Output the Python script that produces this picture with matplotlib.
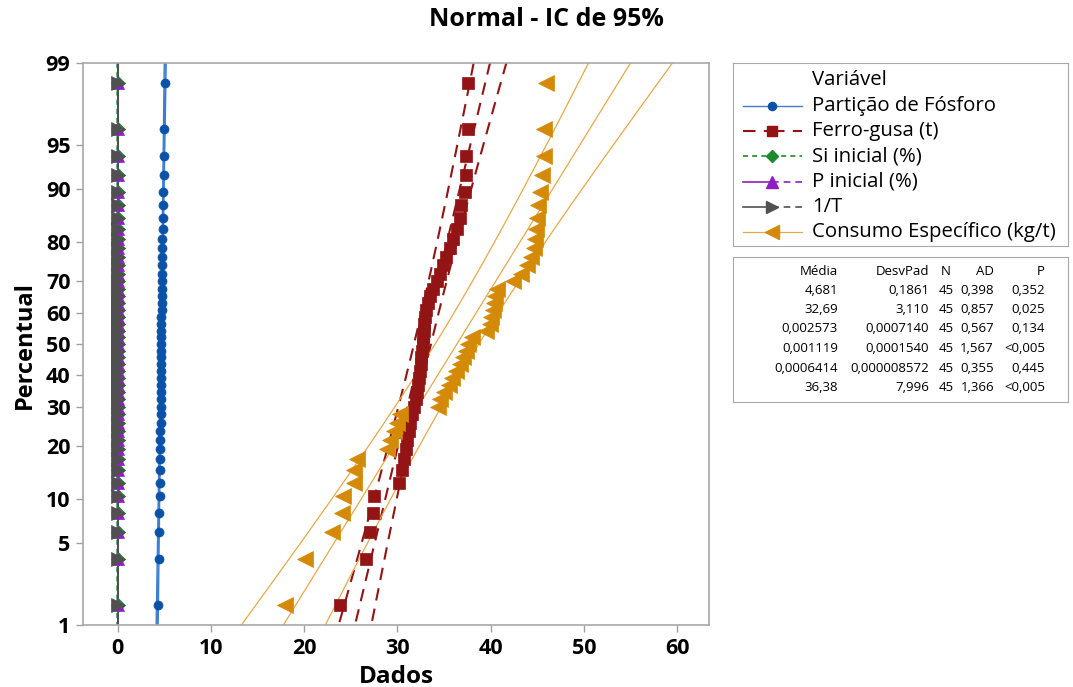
import numpy as np
import matplotlib
matplotlib.use("Agg")
import matplotlib.pyplot as plt
from statistics import NormalDist

plt.rcParams['font.family'] = ['Open Sans', 'DejaVu Sans']

# ---------------- data (sorted samples, n = 45 each) ----------------
particao = [4.38, 4.45, 4.48, 4.48, 4.55, 4.56, 4.57, 4.58, 4.59, 4.60,
            4.60, 4.61, 4.62, 4.63, 4.64, 4.64, 4.65, 4.66, 4.66, 4.67,
            4.67, 4.68, 4.68, 4.69, 4.70, 4.70, 4.71, 4.72, 4.72, 4.73,
            4.74, 4.75, 4.76, 4.77, 4.78, 4.80, 4.81, 4.85, 4.86, 4.88,
            4.90, 4.98, 5.00, 5.02, 5.08]

ferro = [23.9, 26.6, 27.1, 27.4, 27.5, 30.2, 30.5, 30.7, 30.9, 31.0,
         31.2, 31.4, 31.6, 31.8, 32.0, 32.1, 32.2, 32.3, 32.4, 32.5,
         32.5, 32.6, 32.7, 32.7, 32.8, 32.9, 33.0, 33.1, 33.3, 33.5,
         33.8, 34.2, 34.6, 34.9, 35.2, 35.6, 36.0, 36.4, 36.7, 36.8,
         37.2, 37.4, 37.4, 37.6, 37.6]

si_inicial = [0.0011, 0.0013, 0.0015, 0.0016, 0.0017, 0.0018, 0.0019, 0.0019, 0.0020, 0.0020,
              0.0021, 0.0021, 0.0022, 0.0022, 0.0023, 0.0023, 0.0024, 0.0024, 0.0024, 0.0025,
              0.0025, 0.0026, 0.0026, 0.0026, 0.0027, 0.0027, 0.0028, 0.0028, 0.0028, 0.0029,
              0.0029, 0.0030, 0.0030, 0.0031, 0.0031, 0.0032, 0.0033, 0.0033, 0.0034, 0.0035,
              0.0036, 0.0037, 0.0038, 0.0040, 0.0043]

p_inicial = [0.0008, 0.0009, 0.0009, 0.0009, 0.0009, 0.0010, 0.0010, 0.0010, 0.0010, 0.0010,
             0.0010, 0.0010, 0.0010, 0.0010, 0.0010, 0.0010, 0.0010, 0.0011, 0.0011, 0.0011,
             0.0011, 0.0011, 0.0011, 0.0011, 0.0011, 0.0011, 0.0011, 0.0012, 0.0012, 0.0012,
             0.0012, 0.0012, 0.0012, 0.0012, 0.0012, 0.0012, 0.0012, 0.0013, 0.0013, 0.0013,
             0.0013, 0.0013, 0.0014, 0.0014, 0.0015]

inv_t = [0.000622, 0.000626, 0.000628, 0.000630, 0.000631, 0.000632, 0.000633, 0.000634, 0.000634, 0.000635,
         0.000636, 0.000636, 0.000637, 0.000637, 0.000638, 0.000638, 0.000639, 0.000639, 0.000640, 0.000640,
         0.000641, 0.000641, 0.000641, 0.000642, 0.000642, 0.000643, 0.000643, 0.000644, 0.000644, 0.000645,
         0.000645, 0.000646, 0.000646, 0.000647, 0.000648, 0.000648, 0.000649, 0.000650, 0.000651, 0.000652,
         0.000653, 0.000654, 0.000656, 0.000658, 0.000661]

consumo = [18.0, 20.1, 23.0, 24.1, 24.2, 25.3, 25.3, 25.7, 28.9, 29.2,
           29.6, 30.0, 30.3, 34.3, 34.6, 35.0, 35.5, 35.9, 36.3, 36.7,
           37.0, 37.3, 37.6, 38.0, 39.5, 39.9, 40.0, 40.2, 40.4, 40.5,
           40.7, 42.4, 43.2, 43.9, 44.3, 44.6, 44.8, 44.9, 45.0, 45.1,
           45.3, 45.5, 45.7, 45.7, 45.9]

nomes = ["Partição de Fósforo", "Ferro-gusa (t)", "Si inicial (%)",
         "P inicial (%)", "1/T", "Consumo Específico (kg/t)"]

# summary table as printed
media_txt = ["4,681", "32,69", "0,002573", "0,001119", "0,0006414", "36,38"]
desvpad_txt = ["0,1861", "3,110", "0,0007140", "0,0001540", "0,000008572", "7,996"]
n_txt = ["45", "45", "45", "45", "45", "45"]
ad_txt = ["0,398", "0,857", "0,567", "1,567", "0,355", "1,366"]
p_txt = ["0,352", "0,025", "0,134", "<0,005", "0,445", "<0,005"]

y_ticks = [1, 5, 10, 20, 30, 40, 50, 60, 70, 80, 90, 95, 99]
x_ticks = [0, 10, 20, 30, 40, 50, 60]

series = [particao, ferro, si_inicial, p_inicial, inv_t, consumo]

# ---------------- styles ----------------
marker_col = ["#0a52a8", "#921414", "#1b8a2a", "#8f1fc2", "#505050", "#d48a06"]
line_col = ["#3c7fd0", "#921414", "#1b8a2a", "#8f1fc2", "#505050", "#e8a848"]
markers = ["o", "s", "D", "^", ">", "<"]
msizes = [6.5, 8.5, 7, 9, 10, 11]
fit_ls = ["-", (0, (6, 4)), (0, (3, 2.5)), "-", "-", "-"]
ci_ls = ["-", (0, (6, 4)), (0, (3, 2.5)), (0, (4, 3)), (0, (4, 3)), "-"]
lws = [1.0, 1.5, 1.2, 1.2, 1.2, 0.9]

# ---------------- normal probability scale ----------------
_nd = NormalDist()


def _ppf_scalar(p):
    if not np.isfinite(p):
        return np.nan
    p = min(max(p, 1e-9), 1 - 1e-9)
    return _nd.inv_cdf(p)


_ppf = np.vectorize(_ppf_scalar, otypes=[float])
_cdf = np.vectorize(lambda z: _nd.cdf(z) if np.isfinite(z) else np.nan, otypes=[float])


def prob_fwd(pct):
    return _ppf(np.asarray(pct, dtype=float) / 100.0)


def prob_inv(z):
    return _cdf(np.asarray(z, dtype=float)) * 100.0


fig = plt.figure(figsize=(10.73, 6.87), dpi=100)
ax = fig.add_axes([83 / 1073, 62 / 687, 626 / 1073, 562 / 687])
ax.set_yscale("function", functions=(prob_fwd, prob_inv))

n = 45
ranks = np.arange(1, n + 1)
plot_pos = (ranks - 0.3) / (n + 0.4) * 100.0

z_grid = np.linspace(-2.8, 2.8, 300)
p_grid = prob_inv(z_grid)
z975 = _nd.inv_cdf(0.975)

for k, vals in enumerate(series):
    mu = float(media_txt[k].replace(",", "."))
    sd = float(desvpad_txt[k].replace(",", "."))
    fit = mu + sd * z_grid
    half = z975 * sd * np.sqrt(1.0 / n + z_grid ** 2 / (2.0 * n))
    ax.plot(fit, p_grid, color=line_col[k], ls=fit_ls[k], lw=lws[k], zorder=2)
    ax.plot(fit - half, p_grid, color=line_col[k], ls=ci_ls[k], lw=lws[k], zorder=2)
    ax.plot(fit + half, p_grid, color=line_col[k], ls=ci_ls[k], lw=lws[k], zorder=2)
    ax.plot(np.sort(vals), plot_pos, ls="none", marker=markers[k], ms=msizes[k],
            mfc=marker_col[k], mec=marker_col[k], mew=0.5, zorder=3)

ax.set_xlim(-3.7, 63.4)
ax.set_ylim(1, 99)
ax.set_yticks(y_ticks)
ax.set_yticklabels([str(t) for t in y_ticks])
ax.set_xticks(x_ticks)
ax.set_xticklabels([str(t) for t in x_ticks])
ax.yaxis.set_minor_locator(matplotlib.ticker.NullLocator())
ax.tick_params(axis="both", direction="out", length=5, width=1, color="#a0a0a0",
               labelsize=15.5, pad=4)
for lab in ax.get_xticklabels() + ax.get_yticklabels():
    lab.set_fontweight("bold")
for sp in ax.spines.values():
    sp.set_color("#a8a8a8")
    sp.set_linewidth(1.2)

fig.text(546 / 1073, 1 - 20 / 687, "Normal - IC de 95%", ha="center", va="center",
         fontsize=18, fontweight="bold")
fig.text(396 / 1073, 1 - 677 / 687, "Dados", ha="center", va="center",
         fontsize=17.5, fontweight="bold")
fig.text(25 / 1073, 1 - 345 / 687, "Percentual", ha="center", va="center",
         rotation=90, fontsize=17, fontweight="bold")

# ---------------- legend box ----------------
lg = fig.add_axes([733 / 1073, 1 - 246 / 687, 335 / 1073, 183 / 687])
lg.set_xlim(0, 335)
lg.set_ylim(183, 0)
lg.set_xticks([])
lg.set_yticks([])
for sp in lg.spines.values():
    sp.set_color("#a8a8a8")
lg.text(79, 17, "Variável", ha="left", va="center", fontsize=14.7)
for k, nome in enumerate(nomes):
    yy = 43 + k * 25.2
    lg.plot([10, 39], [yy, yy], color=line_col[k], ls=fit_ls[k], lw=lws[k])
    lg.plot([39, 69], [yy, yy], color=line_col[k], ls=ci_ls[k], lw=lws[k])
    lg.plot([39], [yy], marker=markers[k], ms=msizes[k] * 0.9, color=marker_col[k],
            mec=marker_col[k], ls="none")
    lg.text(79, yy, nome, ha="left", va="center", fontsize=14.7)

# ---------------- summary table ----------------
tb = fig.add_axes([733 / 1073, 1 - 402 / 687, 335 / 1073, 145 / 687])
tb.set_xlim(0, 335)
tb.set_ylim(145, 0)
tb.set_xticks([])
tb.set_yticks([])
for sp in tb.spines.values():
    sp.set_color("#a8a8a8")
cols = [(105, "right", "Média", media_txt),
        (196, "right", "DesvPad", desvpad_txt),
        (213, "center", "N", n_txt),
        (261, "right", "AD", ad_txt),
        (312, "right", "P", p_txt)]
for x, ha, head, vals in cols:
    tb.text(x, 14, head, ha=ha, va="center", fontsize=9.5)
    for r, v in enumerate(vals):
        tb.text(x, 33 + r * 19.5, v, ha=ha, va="center", fontsize=9.5)

fig.savefig("out.png", dpi=100)
